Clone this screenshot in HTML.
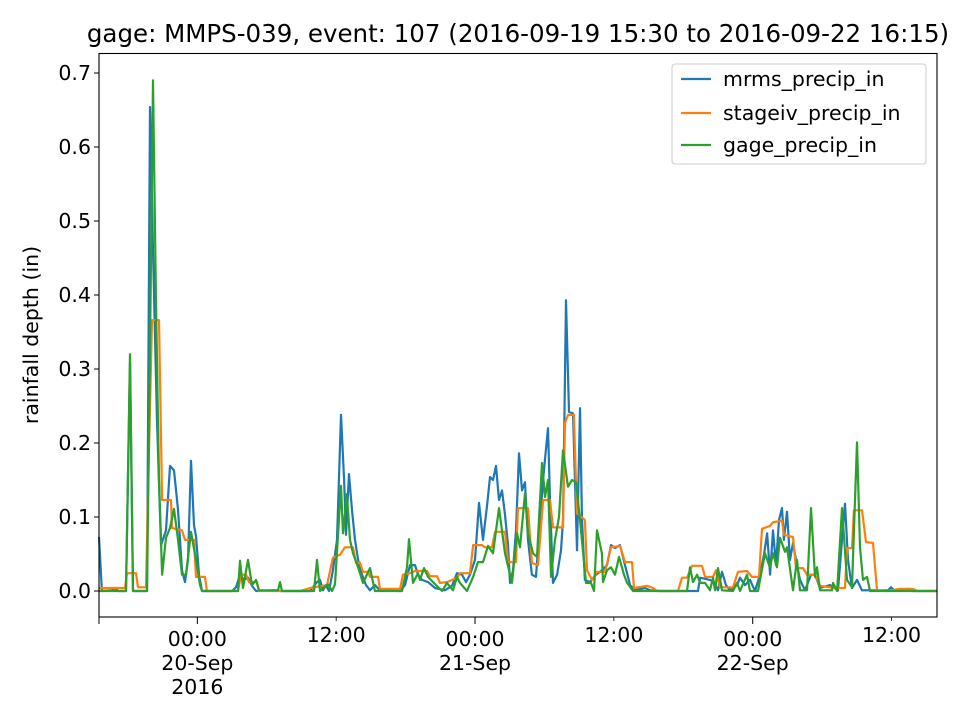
<!DOCTYPE html>
<html><head><meta charset="utf-8"><style>
html,body{margin:0;padding:0;background:#fff;}
svg{display:block;font-family:"DejaVu Sans","Liberation Sans",sans-serif;}
</style></head><body>
<svg id="chart" width="960" height="720" viewBox="0 0 960 720" xmlns="http://www.w3.org/2000/svg">
<rect width="960" height="720" fill="#fff"/>
<text x="518" y="42" font-size="24.5" text-anchor="middle" fill="#000">gage: MMPS-039, event: 107 (2016-09-19 15:30 to 2016-09-22 16:15)</text>
<text transform="translate(38,335) rotate(-90)" font-size="20.5" text-anchor="middle">rainfall depth (in)</text>
<g id="series"></g>
<g id="axes"></g>
<rect x="99" y="53.5" width="838" height="563.5" fill="none" stroke="#000" stroke-width="1.1"/>
<g>
<rect x="672" y="64" width="254" height="100" rx="3" fill="#fff" fill-opacity="0.8" stroke="#ccc"/>
<line x1="681" y1="79" x2="711" y2="79" stroke="#1f77b4" stroke-width="2.2"/>
<text x="723" y="86" font-size="20.5">mrms_precip_in</text>
<line x1="681" y1="113" x2="711" y2="113" stroke="#ff7f0e" stroke-width="2.2"/>
<text x="723" y="120" font-size="20.5">stageiv_precip_in</text>
<line x1="681" y1="145" x2="711" y2="145" stroke="#2ca02c" stroke-width="2.2"/>
<text x="723" y="152" font-size="20.5">gage_precip_in</text>
</g>
</svg>
<script>
// hours since 2016-09-19 15:30
const mrmsHours=[0,0.25,1.12,1.38,1.64,2.33,2.68,2.94,4.15,4.41,4.67,5.01,5.36,5.79,6.14,6.48,6.83,7.17,7.43,7.69,7.95,8.21,8.38,8.64,8.9,11.5,11.84,12.19,12.53,12.88,13.22,13.57,15.21,15.64,18.24,18.84,19.1,19.36,19.62,19.88,20.22,20.57,20.92,21.18,21.35,21.61,21.87,22.13,22.39,22.73,23.08,23.42,23.85,24.29,26.02,26.45,26.88,27.31,27.57,27.92,28.44,29.04,29.9,30.51,30.94,31.37,31.72,32.07,32.5,32.84,33.19,33.54,33.79,34.05,34.31,34.57,34.83,35.09,35.35,35.52,35.78,36.04,36.3,36.56,36.82,37.08,37.42,37.77,38.12,38.46,38.81,38.98,39.24,39.59,39.93,40.1,40.36,40.62,40.97,41.31,41.57,41.75,42.0,42.44,42.96,43.47,43.91,44.25,44.6,45.03,45.46,45.9,46.33,47.19,47.62,48.49,51.77,51.95,52.81,53.15,53.5,53.85,54.19,54.54,55.14,55.4,55.83,56.27,56.7,57.13,57.48,57.74,58.0,58.25,58.51,58.77,59.03,59.2,59.46,59.72,59.98,60.24,60.59,61.02,61.54,61.88,62.32,63.18,63.87,64.22,64.48,64.74,65.08,65.51,65.95,68.19,68.45,68.8,70.01,70.27,72.43];
const mrmsValues=[0.073,0,0.001,0.004,0,0,0.31,0,0,0.654,0.46,0.23,0.062,0.082,0.169,0.163,0.11,0.028,0.012,0.042,0.176,0.089,0.074,0.022,0,0,0.005,0.022,0.015,0.018,0.007,0,0.001,0,0,0.012,0.015,0.001,0.008,0,0.028,0.069,0.238,0.15,0.076,0.158,0.109,0.069,0.042,0.022,0.008,0.001,0.008,0.001,0,0.008,0.035,0.035,0.022,0.015,0.012,0.004,0.001,0.007,0.024,0.022,0.012,0.022,0.042,0.119,0.069,0.116,0.154,0.15,0.169,0.123,0.136,0.103,0.062,0.011,0.028,0.082,0.186,0.136,0.147,0.069,0.022,0.019,0.096,0.164,0.22,0.123,0.011,0.022,0.055,0.096,0.393,0.242,0.24,0.055,0.247,0.096,0.015,0.012,0.022,0.028,0.035,0.062,0.058,0.062,0.035,0.008,0.001,0.004,0.001,0,0,0.018,0.015,0.012,0.001,0.026,0.008,0.001,0.008,0.018,0.008,0.015,0,0.022,0.049,0.078,0.022,0.082,0.035,0.096,0.112,0.069,0.107,0.042,0.065,0.042,0.015,0.001,0.022,0.022,0.004,0.008,0.001,0.069,0.118,0.042,0.004,0.015,0.001,0.001,0.005,0,0.003,0,0];
const stageivHours=[0,2.25,2.42,3.2,3.37,4.06,4.32,4.58,5.19,5.45,6.22,6.31,7.17,7.43,8.21,8.38,9.16,9.33,12.01,12.27,12.71,12.96,13.66,13.83,17.37,18.24,19.71,20.22,20.83,21.26,21.95,22.21,22.56,22.82,23.25,23.42,24.11,24.29,26.02,26.27,26.88,27.31,28.35,28.61,29.21,29.47,30.08,30.94,31.2,32.07,32.33,33.1,33.36,33.97,34.23,35.09,35.35,36.04,36.21,37.08,37.42,37.94,38.38,38.98,39.24,40.1,40.28,40.54,41.05,41.31,42.0,42.18,42.61,43.04,43.73,44.25,45.03,45.46,46.07,46.24,47.36,47.88,48.23,50.04,50.39,50.82,51.25,52.12,52.38,53.07,53.33,53.67,54.8,55.23,56.01,56.44,57.04,57.3,58.0,58.25,59.03,59.2,59.98,60.24,60.85,61.19,61.88,62.32,63.61,64.48,64.65,65.08,65.25,65.95,66.29,66.9,67.24,68.11,69.23,70.35,70.7,72.43];
const stageivValues=[0.004,0.004,0.024,0.024,0.005,0.005,0.19,0.366,0.366,0.123,0.123,0.085,0.082,0.069,0.069,0.019,0.019,0,0,0.022,0.022,0.012,0.012,0,0,0.004,0.008,0.045,0.049,0.059,0.059,0.038,0.038,0.026,0.026,0.019,0.019,0.003,0.003,0.022,0.024,0.027,0.027,0.02,0.02,0.011,0.012,0.018,0.024,0.024,0.062,0.062,0.059,0.059,0.08,0.08,0.039,0.039,0.112,0.112,0.038,0.035,0.123,0.123,0.086,0.086,0.227,0.238,0.238,0.105,0.096,0.028,0.015,0.026,0.026,0.059,0.061,0.039,0.039,0.004,0.007,0.004,0,0,0.018,0.018,0.034,0.034,0.019,0.019,0.028,0.005,0.005,0.026,0.027,0.019,0.019,0.084,0.088,0.093,0.095,0.076,0.073,0.031,0.031,0.022,0.022,0.007,0.004,0.004,0.058,0.058,0.109,0.109,0.066,0.065,0.001,0,0.003,0.003,0,0];
const gageHours=[0,2.33,2.68,2.94,4.15,4.41,4.67,4.93,5.19,5.45,5.79,6.14,6.48,6.83,7.17,7.52,7.95,8.38,8.73,8.9,12.01,12.19,12.45,12.88,13.22,13.57,13.83,15.47,15.64,15.82,18.58,18.84,19.1,19.79,20.14,20.4,20.92,21.09,21.43,21.69,21.95,22.39,22.82,23.42,23.85,26.19,26.62,26.79,27.14,27.57,27.74,28.09,28.44,28.87,29.65,30.08,30.6,30.94,31.2,31.81,32.33,32.76,33.19,33.62,34.05,34.57,35.09,35.7,36.13,36.39,36.82,37.08,37.51,37.86,38.29,38.55,38.81,39.07,39.41,39.76,40.1,40.54,40.88,41.23,41.57,42.09,42.52,42.78,43.04,43.47,43.56,43.91,44.25,44.6,44.94,45.38,45.64,46.15,50.82,51.08,51.34,51.69,51.95,52.38,52.81,53.07,53.24,53.5,53.85,54.8,55.14,55.4,56.01,56.27,56.96,57.56,57.99,58.25,58.6,58.86,59.29,59.46,59.98,60.33,60.59,61.19,61.54,61.88,62.06,62.32,63.35,63.44,63.79,64.22,64.65,65.08,65.51,65.77,66.03,66.38,66.64,72.43];
const gageValues=[0,0,0.32,0,0,0.326,0.69,0.39,0.15,0.022,0.072,0.085,0.111,0.069,0.022,0.022,0.08,0.042,0.008,0,0,0.041,0.004,0.042,0.008,0.015,0.001,0.001,0.012,0,0,0.042,0,0.009,0,0.009,0.142,0.078,0.131,0.069,0.051,0.032,0.011,0.031,0,0,0.032,0.07,0.011,0.024,0.015,0.031,0.019,0.012,0,0.011,0.001,0.019,0.011,0,0.019,0.039,0.039,0.061,0.051,0.112,0.051,0.011,0.078,0.059,0.132,0.078,0.051,0.046,0.173,0.127,0.15,0.019,0.069,0.1,0.19,0.141,0.15,0.147,0.096,0.011,0.011,0,0.082,0.051,0.012,0.028,0.032,0.022,0.046,0.022,0.011,0,0,0.032,0.012,0.022,0.011,0.011,0.001,0.018,0.001,0.031,0.001,0,0.011,0,0.022,0,0,0.051,0.032,0.051,0.032,0.072,0.053,0.059,0.001,0.042,0.001,0.001,0.112,0.019,0.032,0.001,0.001,0.011,0,0.112,0.015,0.005,0.201,0.059,0.015,0.019,0,0];
const yTicks=[0,0.1,0.2,0.3,0.4,0.5,0.6,0.7];
const yTickLabels=["0.0","0.1","0.2","0.3","0.4","0.5","0.6","0.7"];
const xMajorHours=[0,8.5,32.5,56.5];
const xMinorHours=[20.5,44.5,68.5];
const xTickLabels=[[],["00:00","20-Sep","2016"],["00:00","21-Sep"],["00:00","22-Sep"]];
const xMinorLabels=["12:00","12:00","12:00"];

const NS="http://www.w3.org/2000/svg";
const X0=99,PXH=11.57,Y0=591,PXV=740,BOT=617;
const xs=h=>X0+h*PXH, ys=v=>Y0-v*PXV;
const axes=document.getElementById('axes'), ser=document.getElementById('series');
function mk(tag,attrs,parent){const e=document.createElementNS(NS,tag);for(const k in attrs)e.setAttribute(k,attrs[k]);parent.appendChild(e);return e;}
yTicks.forEach((v,i)=>{
  const t=mk('line',{x1:X0-5,x2:X0,y1:ys(v),y2:ys(v),stroke:'#000','stroke-width':1},axes);
  
  
  const l=mk('text',{x:X0-8,y:ys(v)+7,'font-size':20.5,'text-anchor':'end'},axes);
  
  
  l.textContent=yTickLabels[i];
});
xMajorHours.forEach((h,i)=>{
  const t=mk('line',{x1:xs(h),x2:xs(h),y1:BOT,y2:BOT+7,stroke:'#000','stroke-width':1},axes);
  
  
  xTickLabels[i].forEach((s,j)=>{
    const l=mk('text',{x:xs(h),y:BOT+29+j*24,'font-size':20.5,'text-anchor':'middle'},axes);
    
    
    l.textContent=s;
  });
});
xMinorHours.forEach((h,i)=>{
  const t=mk('line',{x1:xs(h),x2:xs(h),y1:BOT,y2:BOT+4,stroke:'#000','stroke-width':0.8},axes);
  
  
  const l=mk('text',{x:xs(h),y:BOT+25,'font-size':20.5,'text-anchor':'middle'},axes);
  
  
  l.textContent=xMinorLabels[i];
});
function line(hs,vs,color,name){
  const d=hs.map((h,i)=>(i?'L':'M')+xs(h).toFixed(1)+' '+ys(vs[i]).toFixed(1)).join(' ');
  const p=mk('path',{d:d,fill:'none',stroke:color,'stroke-width':2.2,'stroke-linejoin':'round'},ser);
  
  
}
line(mrmsHours,mrmsValues,'#1f77b4','mrms-line');
line(stageivHours,stageivValues,'#ff7f0e','stageiv-line');
line(gageHours,gageValues,'#2ca02c','gage-line');
</script>
</body></html>
